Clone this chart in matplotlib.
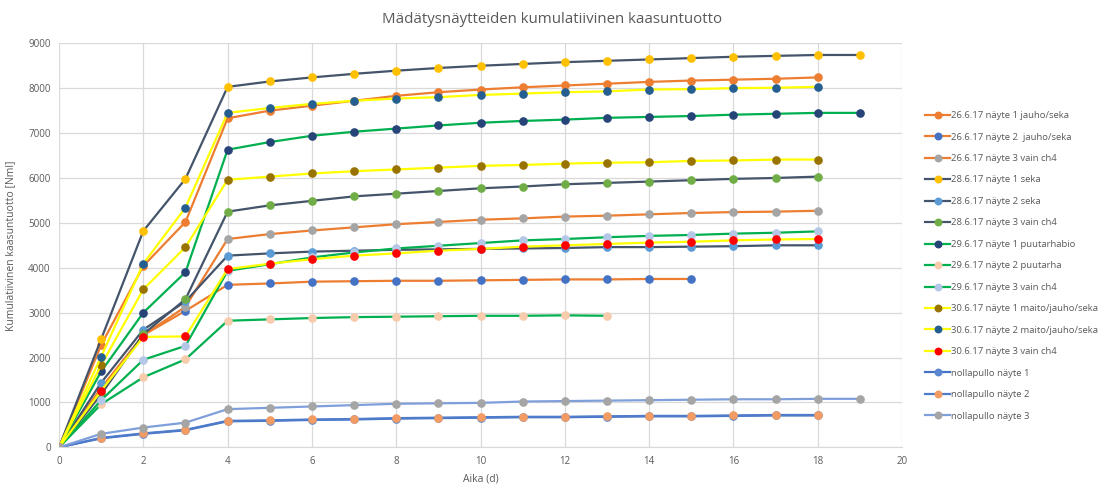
import numpy as np
import matplotlib.pyplot as plt

plt.rcParams['font.family'] = ['Open Sans', 'DejaVu Sans']

# paivat
days = list(range(0, 20))

labels = [
    "26.6.17 näyte 1 jauho/seka",
    "26.6.17 näyte 2  jauho/seka",
    "26.6.17 näyte 3 vain ch4",
    "28.6.17 näyte 1 seka",
    "28.6.17 näyte 2 seka",
    "28.6.17 näyte 3 vain ch4",
    "29.6.17 näyte 1 puutarhabio",
    "29.6.17 näyte 2 puutarha",
    "29.6.17 näyte 3 vain ch4",
    "30.6.17 näyte 1 maito/jauho/seka",
    "30.6.17 näyte 2 maito/jauho/seka",
    "30.6.17 näyte 3 vain ch4",
    "nollapullo näyte 1",
    "nollapullo näyte 2",
    "nollapullo näyte 3",
]

s26_1 = [0, 2280, 4040, 5020, 7330, 7500, 7610, 7720, 7830, 7910, 7970, 8020, 8060, 8100, 8140, 8170, 8190, 8210, 8240]
s26_2 = [0, 1300, 2500, 3040, 3620, 3650, 3690, 3700, 3710, 3710, 3720, 3730, 3740, 3740, 3750, 3750]
s26_3 = [0, 1320, 2500, 3130, 4640, 4750, 4830, 4900, 4970, 5020, 5070, 5100, 5140, 5160, 5190, 5220, 5240, 5250, 5270]
s28_1 = [0, 2410, 4820, 5980, 8030, 8150, 8240, 8320, 8390, 8450, 8500, 8540, 8580, 8610, 8640, 8670, 8700, 8720, 8740, 8740]
s28_2 = [0, 1440, 2620, 3250, 4270, 4320, 4360, 4380, 4400, 4410, 4420, 4430, 4440, 4460, 4460, 4470, 4480, 4500, 4500]
s28_3 = [0, 1180, 2520, 3300, 5250, 5390, 5490, 5590, 5650, 5710, 5770, 5810, 5860, 5890, 5920, 5950, 5980, 6000, 6030]
s29_1 = [0, 1690, 3000, 3900, 6630, 6800, 6940, 7030, 7100, 7170, 7230, 7270, 7300, 7340, 7360, 7380, 7410, 7430, 7450, 7450]
s29_2 = [0, 960, 1560, 1960, 2820, 2850, 2880, 2900, 2910, 2920, 2930, 2930, 2940, 2930]
s29_3 = [0, 1050, 1950, 2260, 3930, 4080, 4230, 4340, 4430, 4490, 4550, 4610, 4640, 4680, 4710, 4730, 4760, 4780, 4810]
s30_1 = [0, 1830, 3520, 4460, 5960, 6030, 6100, 6150, 6190, 6230, 6270, 6290, 6320, 6340, 6350, 6380, 6390, 6410, 6410]
s30_2 = [0, 2020, 4090, 5340, 7450, 7560, 7650, 7720, 7770, 7800, 7850, 7880, 7910, 7930, 7970, 7980, 8000, 8010, 8030]
s30_3 = [0, 1260, 2460, 2470, 3970, 4090, 4190, 4270, 4320, 4380, 4420, 4470, 4500, 4530, 4560, 4580, 4610, 4630, 4640]
nolla_1 = [0, 200, 300, 380, 580, 590, 610, 620, 640, 650, 660, 670, 670, 680, 690, 690, 700, 710, 710]
nolla_2 = [0, 210, 310, 390, 590, 600, 620, 630, 650, 660, 670, 680, 680, 690, 700, 700, 710, 720, 720]
nolla_3 = [0, 300, 440, 550, 850, 880, 910, 940, 970, 980, 990, 1020, 1030, 1040, 1050, 1060, 1070, 1070, 1080, 1080]

series = [s26_1, s26_2, s26_3, s28_1, s28_2, s28_3, s29_1, s29_2, s29_3,
          s30_1, s30_2, s30_3, nolla_1, nolla_2, nolla_3]

line_colors = ["#ED7D31"] * 3 + ["#44546A"] * 3 + ["#00B050"] * 3 + ["#FFFF00"] * 3 + \
              ["#4472C4", "#4F7BCB", "#7F9FDB"]
marker_colors = ["#ED7D31", "#4472C4", "#A5A5A5", "#FFC000", "#5B9BD5", "#70AD47",
                 "#264478", "#F8CBAD", "#B4C7E7", "#997300", "#255E91", "#FF0000",
                 "#5B86D0", "#F29B62", "#A5A5A5"]

fig = plt.figure(figsize=(11.05, 4.86), dpi=100)
ax = fig.add_axes([0.0534, 0.0796, 0.7629, 0.8313])

for vals, lab, lc, mc in zip(series, labels, line_colors, marker_colors):
    ax.plot(days[:len(vals)], vals, color=lc, linewidth=1.6, marker='o',
            markersize=5.2, markerfacecolor=mc, markeredgecolor=mc, label=lab)

ax.set_xlim(0, 20)
ax.set_ylim(0, 9000)
ax.set_xticks(range(0, 21, 2))
ax.set_yticks(range(0, 9001, 1000))
ax.grid(True, color="#D9D9D9", linewidth=0.9)
ax.set_axisbelow(True)
for side in ["top", "right", "left"]:
    ax.spines[side].set_visible(False)
ax.spines["bottom"].set_color("#D9D9D9")
ax.tick_params(length=0, labelsize=7, colors="#595959", pad=6)

ax.set_xlabel("Aika (d)", fontsize=7.5, color="#595959", labelpad=5)
ax.set_ylabel("Kumulatiivinen kaasuntuotto [Nml]", fontsize=7.5, color="#595959", labelpad=9)
fig.suptitle("Mädätysnäytteiden kumulatiivinen kaasuntuotto", fontsize=10.8,
             color="#595959", y=0.975)

leg = fig.legend(loc="center left", bbox_to_anchor=(0.834, 0.453), frameon=False,
                 fontsize=6.8, labelcolor="#595959", handlelength=2.6, handletextpad=0.12,
                 labelspacing=1.32, borderaxespad=0, markerscale=0.9)

fig.savefig("out.png", dpi=100)
